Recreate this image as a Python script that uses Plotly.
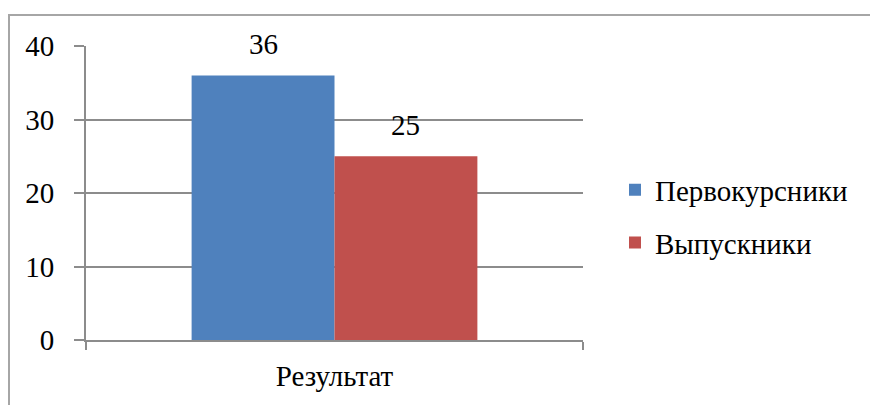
import plotly.graph_objects as go

categories = ["Результат"]
series_names = ["Первокурсники", "Выпускники"]
series_values = [[36], [25]]
series_colors = ["#4F81BD", "#C0504D"]
y_ticks = [0, 10, 20, 30, 40]

W, H = 878, 405
OFF = 8  # page body margin
ml, mr, mt, mb = 86 - OFF, W - 583 + OFF, 46 - OFF, H - 340 + OFF
bargap = 0.425
plot_w = W - ml - mr
plot_h = H - mt - mb
bar_w = plot_w * (1 - bargap) / len(series_names)

FONT = "Times New Roman"
FS = 29
GRID = "#8C8C8C"


def fnt():
    return dict(family=FONT, size=FS, color="black")


fig = go.Figure()
for i, (name, vals, col) in enumerate(zip(series_names, series_values, series_colors)):
    fig.add_trace(go.Bar(
        x=categories, y=vals, name=name, marker=dict(color=col),
        legendgroup=name,
    ))
    for c, v in zip(categories, vals):
        offset = (i - (len(series_names) - 1) / 2) * bar_w
        fig.add_annotation(x=c, y=v, text=str(v), showarrow=False, xref="x", yref="y",
                           xshift=offset, yanchor="bottom", yshift=13, font=fnt())

fig.add_shape(type="rect", xref="paper", yref="paper",
              x0=(9 - OFF - ml) / plot_w, x1=2.0,
              y0=-0.6, y1=(H - mb - (15 - OFF)) / plot_h,
              line=dict(color="#A6A6A6", width=2), layer="below")

fig.update_layout(
    template="none",
    width=W, height=H,
    margin=dict(l=ml, r=mr, t=mt, b=mb),
    paper_bgcolor="white", plot_bgcolor="white",
    font=fnt(),
    barmode="group", bargap=bargap, bargroupgap=0,
    showlegend=True,
    legend=dict(x=(615 - OFF - ml) / plot_w, y=0.42, xanchor="left", yanchor="middle",
                font=fnt(), traceorder="grouped",
                tracegroupgap=12, bgcolor="rgba(0,0,0,0)"),
    xaxis=dict(type="category", showline=True, linecolor=GRID, linewidth=2,
               ticks="outside", tickson="boundaries", ticklen=8, tickcolor=GRID,
               tickwidth=2, showgrid=False, ticklabelstandoff=9, tickfont=fnt()),
    yaxis=dict(range=[0, 40], tickvals=y_ticks, showline=True, linecolor=GRID,
               linewidth=2, ticks="outside", ticklen=10, tickcolor=GRID, tickwidth=2,
               showgrid=True, gridcolor=GRID, gridwidth=2, zeroline=False,
               ticklabelstandoff=14, tickfont=fnt()),
)

fig.write_html("out.html")
